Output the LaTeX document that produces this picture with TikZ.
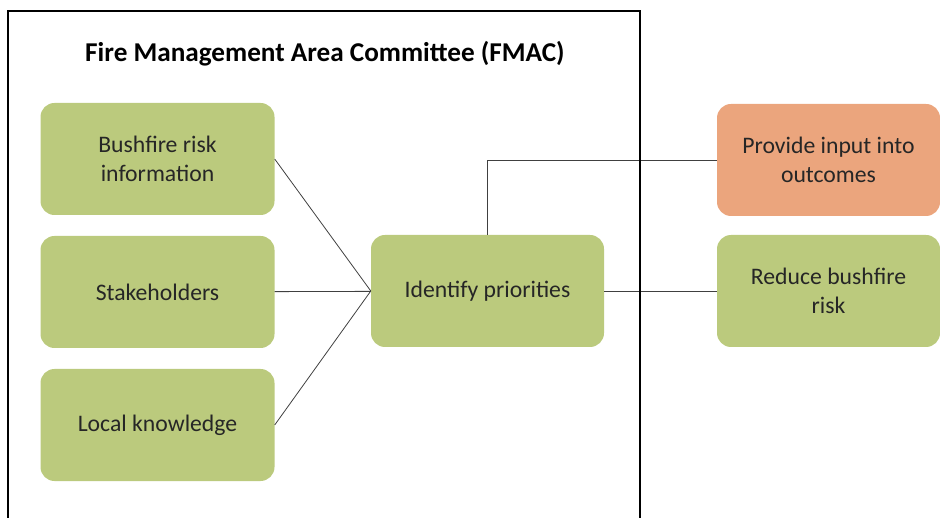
\documentclass[tikz,border=0pt]{standalone}
\usepackage{fontspec}
\setmainfont{Carlito}
\usepackage{tikz}
\usetikzlibrary{arrows,shapes}
\definecolor{boxgreen}{RGB}{187,202,125}
\definecolor{boxorange}{RGB}{235,165,125}
\tikzstyle{block} = [rectangle, fill=boxgreen, text=black!85, align=center, rounded corners=14pt, minimum width=234pt, minimum height=112pt, font=\fontsize{23.7}{29}\selectfont]
\tikzstyle{outblock} = [block, minimum width=223pt]
\tikzstyle{line} = [draw, color=black!75, line width=0.8pt]

\begin{document}
\begin{tikzpicture}[x=1pt, y=-1pt, node distance=133pt]
				\useasboundingbox (0,0) rectangle (940,518);
				% Place nodes
				\node [block] (info) at (157.5,159) {Bushfire risk\\information};
				\node [block, below of=info] (stake) {Stakeholders};
				\node [block, below of=stake] (local) {Local knowledge};
				\node [block, minimum width=233pt] (ident) at (487.5,291) {Identify priorities};
				\node [outblock, fill=boxorange] (input) at (828.5,160) {Provide input into\\outcomes};
				\node [outblock] (reduce) at (828.5,291) {Reduce bushfire\\risk};
				% Draw edges
				\path [line] (info.east) -- (ident.west);
				\path [line] (stake) -- (ident);
				\path [line] (local.east) -- (ident.west);
				\path [line] (ident.north) |- (input.west);
				\path [line] (ident) -- (reduce);
				
				\draw[line width=2pt] (8,540) -- (8,11) -- (640,11) -- (640,540);
				\node [anchor=base, font=\fontsize{27.2}{33}\selectfont\bfseries] (title) at (325,62) {Fire Management Area Committee (FMAC)};
			\end{tikzpicture}
\end{document}
